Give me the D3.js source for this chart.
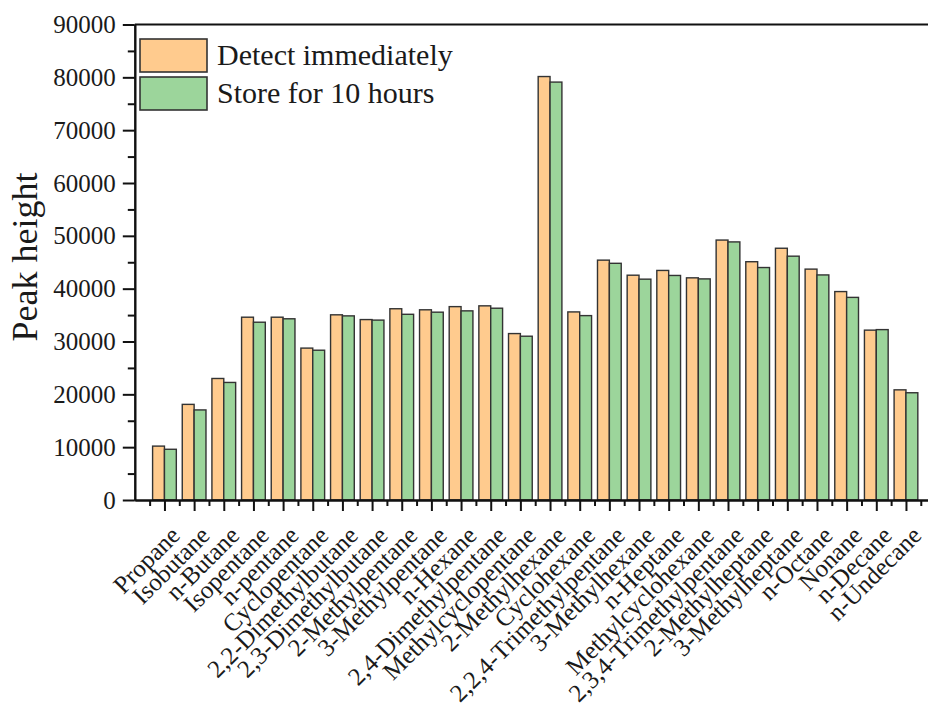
<!DOCTYPE html>
<html>
<head>
<meta charset="utf-8">
<script src="https://cdn.jsdelivr.net/npm/d3@7"></script>
<style>
  html, body { margin: 0; padding: 0; background: #fff; }
  svg { display: block; }
  text { font-family: "Liberation Serif", "Times New Roman", serif; fill: #1a1a1a; }
</style>
</head>
<body>
<svg id="chart" width="928" height="704"></svg>
<script>
// Compounds on the x axis
const categories = [
  "Propane", "Isobutane", "n-Butane", "Isopentane", "n-pentane", "Cyclopentane",
  "2,2-Dimethylbutane", "2,3-Dimethylbutane", "2-Methylpentane", "3-Methylpentane",
  "n-Hexane", "2,4-Dimethylpentane", "Methylcyclopentane", "2-Methylhexane",
  "Cyclohexane", "2,2,4-Trimethylpentane", "3-Methylhexane", "n-Heptane",
  "Methylcyclohexane", "2,3,4-Trimethylpentane", "2-Methylheptane", "3-Methylheptane",
  "n-Octane", "Nonane", "n-Decane", "n-Undecane"
];

// Peak heights, measured right away
const detectImmediately = [
  10200, 18100, 23000, 34600, 34600, 28750, 35050, 34150, 36200, 36000,
  36600, 36750, 31500, 80150, 35600, 45400, 42550, 43450, 42050, 49200,
  45100, 47650, 43700, 39450, 32150, 20850
];

// Peak heights after storing the sample for 10 hours
const storeFor10Hours = [
  9600, 17050, 22250, 33650, 34300, 28350, 34850, 34050, 35150, 35550,
  35800, 36300, 31000, 79100, 34900, 44800, 41800, 42500, 41850, 48850,
  44000, 46150, 42600, 38350, 32250, 20300
];

const seriesNames = ["Detect immediately", "Store for 10 hours"];
const yTicks = [0, 10000, 20000, 30000, 40000, 50000, 60000, 70000, 80000, 90000];

const colors = ["#FFCB8E", "#9CD59B"];
const strokeColor = "#333333";

const svg = d3.select("#chart");

const x0 = 134.8, step = 29.66;
const x = d3.scaleLinear().domain([0, 27]).range([x0, x0 + 27 * step]);
const y = d3.scaleLinear().domain([0, 90000]).range([500, 24.5]);
const barW = step * 0.4;

// Bars
const series = [detectImmediately, storeFor10Hours];
series.forEach((vals, s) => {
  svg.append("g")
    .selectAll("rect")
    .data(vals)
    .join("rect")
    .attr("x", (d, i) => x(i + 1) - barW + s * barW)
    .attr("y", d => y(d))
    .attr("width", barW)
    .attr("height", d => y(0) - y(d))
    .attr("fill", colors[s])
    .attr("stroke", strokeColor)
    .attr("stroke-width", 1.4);
});

// Y axis: major and minor ticks
const yMajor = d3.axisLeft(y).tickValues(yTicks).tickSize(12).tickSizeOuter(0)
  .tickFormat(d3.format("d")).tickPadding(7);
const yMinor = d3.axisLeft(y).tickValues(d3.range(5000, 90000, 10000)).tickSize(7)
  .tickSizeOuter(0).tickFormat("");

const gyMinor = svg.append("g").attr("transform", `translate(${x0},0)`).call(yMinor);
const gy = svg.append("g").attr("transform", `translate(${x0},0)`).call(yMajor);
[gy, gyMinor].forEach(g => {
  g.selectAll("line").attr("stroke", "#111").attr("stroke-width", 2);
  g.select(".domain").attr("stroke", "#111").attr("stroke-width", 2);
});
gy.selectAll("text")
  .style("font-family", '"Liberation Serif", "Times New Roman", serif')
  .style("font-size", "25px")
  .attr("fill", "#1a1a1a");

// X axis: major ticks at each compound, minor ticks in between
const xMajor = d3.axisBottom(x).tickValues(d3.range(1, 27)).tickSize(11)
  .tickSizeOuter(0).tickFormat("");
const xMinor = d3.axisBottom(x).tickValues(d3.range(0.5, 27, 1)).tickSize(6)
  .tickSizeOuter(0).tickFormat("");
const gxMinor = svg.append("g").attr("transform", `translate(0,${y(0)})`).call(xMinor);
const gx = svg.append("g").attr("transform", `translate(0,${y(0)})`).call(xMajor);
[gx, gxMinor].forEach(g => {
  g.selectAll("line").attr("stroke", "#111").attr("stroke-width", 2);
  g.select(".domain").attr("stroke", "#111").attr("stroke-width", 2);
});

// Top frame line
svg.append("line")
  .attr("x1", x0).attr("x2", 928)
  .attr("y1", y(90000)).attr("y2", y(90000))
  .attr("stroke", "#111").attr("stroke-width", 2);

// Rotated compound labels
svg.append("g")
  .selectAll("text")
  .data(categories)
  .join("text")
  .attr("transform", (d, i) => `translate(${x(i + 1) + 17},537) rotate(-45)`)
  .attr("text-anchor", "end")
  .style("font-size", "25px")
  .text(d => d);

// Y axis title
svg.append("text")
  .attr("transform", "translate(37,257) rotate(-90)")
  .attr("text-anchor", "middle")
  .style("font-size", "36px")
  .text("Peak height");

// Legend
const legend = svg.append("g");
seriesNames.forEach((name, s) => {
  const top = 39 + s * 38;
  legend.append("rect")
    .attr("x", 140).attr("y", top)
    .attr("width", 67).attr("height", 33)
    .attr("fill", colors[s])
    .attr("stroke", strokeColor)
    .attr("stroke-width", 1.6);
  legend.append("text")
    .attr("x", 217).attr("y", top + 26)
    .style("font-size", "30px")
    .text(name);
});
</script>
</body>
</html>
